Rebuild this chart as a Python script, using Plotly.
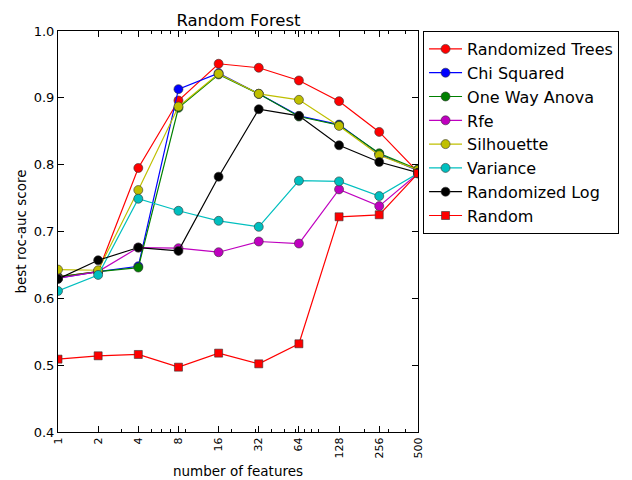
import plotly.graph_objects as go

features = [1, 2, 4, 8, 16, 32, 64, 128, 256, 500]
tick_labels = ["1", "2", "4", "8", "16", "32", "64", "128", "256", "500"]

randomized_trees = [0.632, 0.640, 0.795, 0.896, 0.951, 0.945, 0.926, 0.895, 0.849, 0.789]
chi_squared      = [0.630, 0.640, 0.648, 0.913, 0.937, 0.906, 0.873, 0.860, 0.816, 0.791]
one_way_anova    = [0.632, 0.640, 0.646, 0.885, 0.935, 0.906, 0.872, 0.859, 0.817, 0.793]
rfe              = [0.630, 0.640, 0.676, 0.675, 0.669, 0.685, 0.682, 0.763, 0.738, 0.787]
silhouette       = [0.643, 0.642, 0.762, 0.887, 0.936, 0.906, 0.897, 0.858, 0.814, 0.792]
variance         = [0.611, 0.635, 0.749, 0.731, 0.716, 0.707, 0.776, 0.775, 0.753, 0.787]
randomized_log   = [0.629, 0.657, 0.676, 0.671, 0.782, 0.883, 0.873, 0.829, 0.804, 0.788]
random_sel       = [0.509, 0.514, 0.516, 0.497, 0.518, 0.502, 0.532, 0.722, 0.725, 0.787]

series = [
    ("Randomized Trees", randomized_trees, "#FF0000", "circle"),
    ("Chi Squared", chi_squared, "#0000FF", "circle"),
    ("One Way Anova", one_way_anova, "#008000", "circle"),
    ("Rfe", rfe, "#BF00BF", "circle"),
    ("Silhouette", silhouette, "#BFBF00", "circle"),
    ("Variance", variance, "#00BFBF", "circle"),
    ("Randomized Log", randomized_log, "#000000", "circle"),
    ("Random", random_sel, "#FF0000", "square"),
]

minor_ticks = [3, 5, 6, 7, 9, 20, 30, 40, 50, 60, 70, 80, 90, 200, 300, 400]

fig = go.Figure()
for name, vals, color, sym in series:
    fig.add_trace(go.Scatter(
        x=features, y=vals, name=name, mode="lines+markers",
        line=dict(color=color, width=1.2),
        marker=dict(color=color, symbol=sym, size=9 if sym == "circle" else 8,
                    line=dict(color="#333333", width=0.6)),
    ))

# The page body adds an 8px offset; the figure is sized to fill the rest.
W, H = 624, 472
font_family = "DejaVu Sans"
fig.update_layout(
    width=W, height=H,
    margin=dict(l=50, r=214, t=23, b=48),
    paper_bgcolor="white", plot_bgcolor="white",
    font=dict(family=font_family, size=13, color="black"),
    title=dict(text="Random Forest", x=(238.5 - 8) / W, xanchor="center",
               y=1 - 12 / H, yanchor="middle", font=dict(size=16.5)),
    showlegend=True,
    legend=dict(x=1.014, xanchor="left", y=1, yanchor="top",
                bordercolor="black", borderwidth=1, bgcolor="white",
                font=dict(size=16), itemwidth=33),
)
fig.update_xaxes(
    type="log", range=[0, 2.69897], automargin=False,
    tickmode="array", tickvals=features, ticktext=tick_labels,
    tickangle=-90, ticks="inside", ticklen=6, tickcolor="black",
    tickfont=dict(size=11),
    showline=True, linecolor="black", linewidth=1, mirror="ticks",
    showgrid=False, zeroline=False,
    minor=dict(tickmode="array", tickvals=minor_ticks, ticks="inside",
               ticklen=3, tickcolor="black", showgrid=False),
    title=dict(text="number of features", standoff=9, font=dict(size=13.5)),
)
fig.update_yaxes(
    range=[0.4, 1.0], automargin=False, tickmode="array",
    tickvals=[0.4, 0.5, 0.6, 0.7, 0.8, 0.9, 1.0],
    ticktext=["0.4", "0.5", "0.6", "0.7", "0.8", "0.9", "1.0"],
    ticks="inside", ticklen=6, tickcolor="black",
    showline=True, linecolor="black", linewidth=1, mirror="ticks",
    showgrid=False, zeroline=False,
    title=dict(text="best roc-auc score", standoff=3, font=dict(size=13.5)),
)
fig.write_html("out.html")
